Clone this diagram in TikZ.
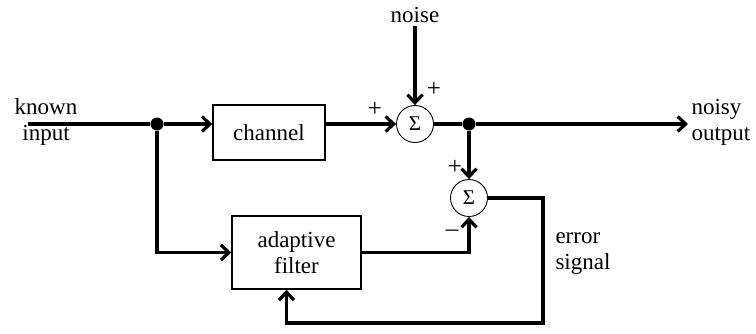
\documentclass[tikz,border=0pt]{standalone}
\usepackage{fontspec}
\setmainfont{Liberation Serif}
\usetikzlibrary{arrows.meta,positioning}

\begin{document}
\begin{tikzpicture}[x=1pt, y=-1pt,
    every node/.style={font=\fontsize{23}{26}\selectfont},
    block/.style={draw, line width=1.4pt, minimum width=112pt, minimum height=55pt, inner sep=0pt, align=center},
    sumnode/.style={draw, circle, line width=0.9pt, minimum size=37pt, inner sep=0pt, font=\fontsize{21}{21}\selectfont},
    wire/.style={line width=3.2pt},
    sig/.style={line width=3.2pt, -{Straight Barb[length=8pt,width=15pt]}},
    dot/.style={circle, fill, inner sep=0pt, minimum size=13pt},
    sgn/.style={font=\fontsize{25}{25}\selectfont, inner sep=0pt}]
  \useasboundingbox (0,0) rectangle (756,333);
  \coordinate (in) at (28,124);
  \node[align=center] (known) at (46,122) {known\\input};
  \node[dot] (split) at (157,124) {};
  \node[block] (chan) at (269,132.5) {channel};
  \node[sumnode] (sum1) at (415,124) {Σ};
  \node (noise) at (415,15) {noise};
  \node[dot] (tap) at (469,124) {};
  \coordinate (out) at (688,124);
  \node[align=left, anchor=west] (noisy) at (688,122) {noisy\\output};
  \node[sumnode] (sum2) at (469,198) {Σ};
  \node[block, minimum width=129pt, minimum height=73pt] (filt) at (296.5,252.5) {adaptive\\filter};
  \coordinate (corner) at (543,323);
  \node[align=left, anchor=west] (err) at (552,254) {error\\signal};
  \node[sgn] (plusa) at (375,109) {+};
  \node[sgn] (plusb) at (434,89) {+};
  \node[sgn] (plusc) at (455,167) {+};
  \node[sgn] (minus) at (452,233) {--};

  \draw[wire] (in) -- (split);
  \draw[sig] (split) -- (split -| chan.west);
  \draw[sig] (chan.east |- sum1) -- (sum1);
  \draw[sig] (noise) -- (sum1);
  \draw[wire] (sum1) -- (tap);
  \draw[sig] (tap) -- (out);
  \draw[sig] (tap) -- (sum2);
  \draw[sig] (split) |- (filt.west);
  \draw[sig] (filt.east) -| (sum2.south);
  \draw[sig] (sum2.east) -| (corner) -| ([xshift=-10pt]filt.south);
\end{tikzpicture}
\end{document}
